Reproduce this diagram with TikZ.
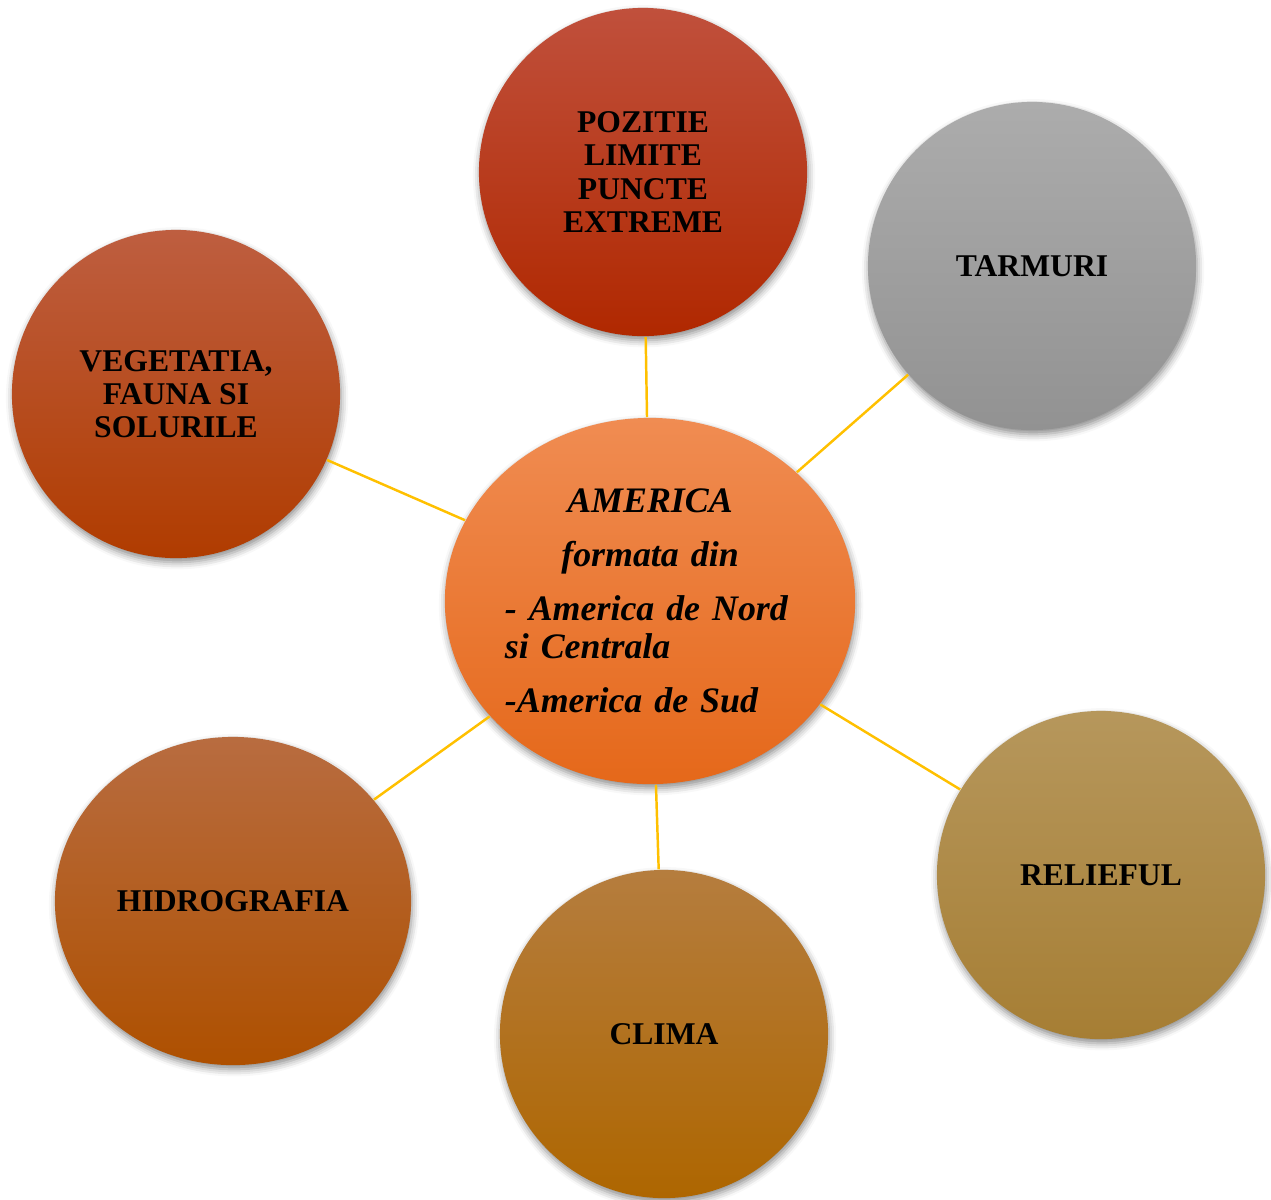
\documentclass[tikz,border=0pt]{standalone}
\usepackage{fontspec}
\setmainfont{Liberation Serif}
\usetikzlibrary{shapes.geometric,shadows.blur}

\definecolor{linkgold}{HTML}{FFC000}
\definecolor{amertop}{HTML}{F08C52}
\definecolor{amerbot}{HTML}{E5681A}
\definecolor{pozitop}{HTML}{C0503C}
\definecolor{pozibot}{HTML}{B02800}
\definecolor{tarmtop}{HTML}{ACACAC}
\definecolor{tarmbot}{HTML}{929292}
\definecolor{vegetop}{HTML}{BE5E40}
\definecolor{vegebot}{HTML}{B03C00}
\definecolor{hidrtop}{HTML}{B86C40}
\definecolor{hidrbot}{HTML}{AE5000}
\definecolor{climtop}{HTML}{B57D3E}
\definecolor{climbot}{HTML}{AE6600}
\definecolor{relitop}{HTML}{B6975C}
\definecolor{relibot}{HTML}{A67E34}

\tikzset{
    bubble/.style={ellipse, inner sep=0pt, minimum width=3.28cm, minimum height=3.28cm,
        align=center, font=\bfseries\fontsize{9}{9.4}\selectfont,
        blur shadow={shadow xshift=0.3pt, shadow yshift=-1.2pt,
            shadow blur radius=2pt, shadow opacity=45}},
    link/.style={draw=linkgold, line width=0.7pt}
}

\begin{document}
\begin{tikzpicture}[x=0.01cm, y=-0.01cm]
    \useasboundingbox (0,0) rectangle (1271,1199);

    % centre
    \node[bubble, minimum width=4.1cm, minimum height=3.66cm,
          top color=amertop, bottom color=amerbot, text width=2.9cm, align=left,
          font=\bfseries\itshape\fontsize{10.2}{10.8}\selectfont] (america) at (650,601)
        {\setlength{\parskip}{4.6pt}{\centering AMERICA\par formata din\par}
         \mbox{- America de Nord}\\si Centrala\par
         -America de Sud};

    % satellites
    \node[bubble, top color=pozitop, bottom color=pozibot] (pozitie) at (643,172)
        {POZITIE\\LIMITE\\PUNCTE\\EXTREME};
    \node[bubble, top color=tarmtop, bottom color=tarmbot] (tarmuri) at (1032,266) {TARMURI};
    \node[bubble, top color=vegetop, bottom color=vegebot] (vegetatia) at (176,394)
        {VEGETATIA,\\FAUNA SI\\SOLURILE};
    \node[bubble, minimum width=3.56cm, top color=hidrtop, bottom color=hidrbot]
        (hidrografia) at (233,901) {HIDROGRAFIA};
    \node[bubble, top color=climtop, bottom color=climbot] (clima) at (664,1034) {CLIMA};
    \node[bubble, top color=relitop, bottom color=relibot] (relieful) at (1101,875) {RELIEFUL};

    % links
    \foreach \n in {pozitie, tarmuri, vegetatia, hidrografia, clima, relieful}
        \draw[link] (america) -- (\n);
\end{tikzpicture}
\end{document}
